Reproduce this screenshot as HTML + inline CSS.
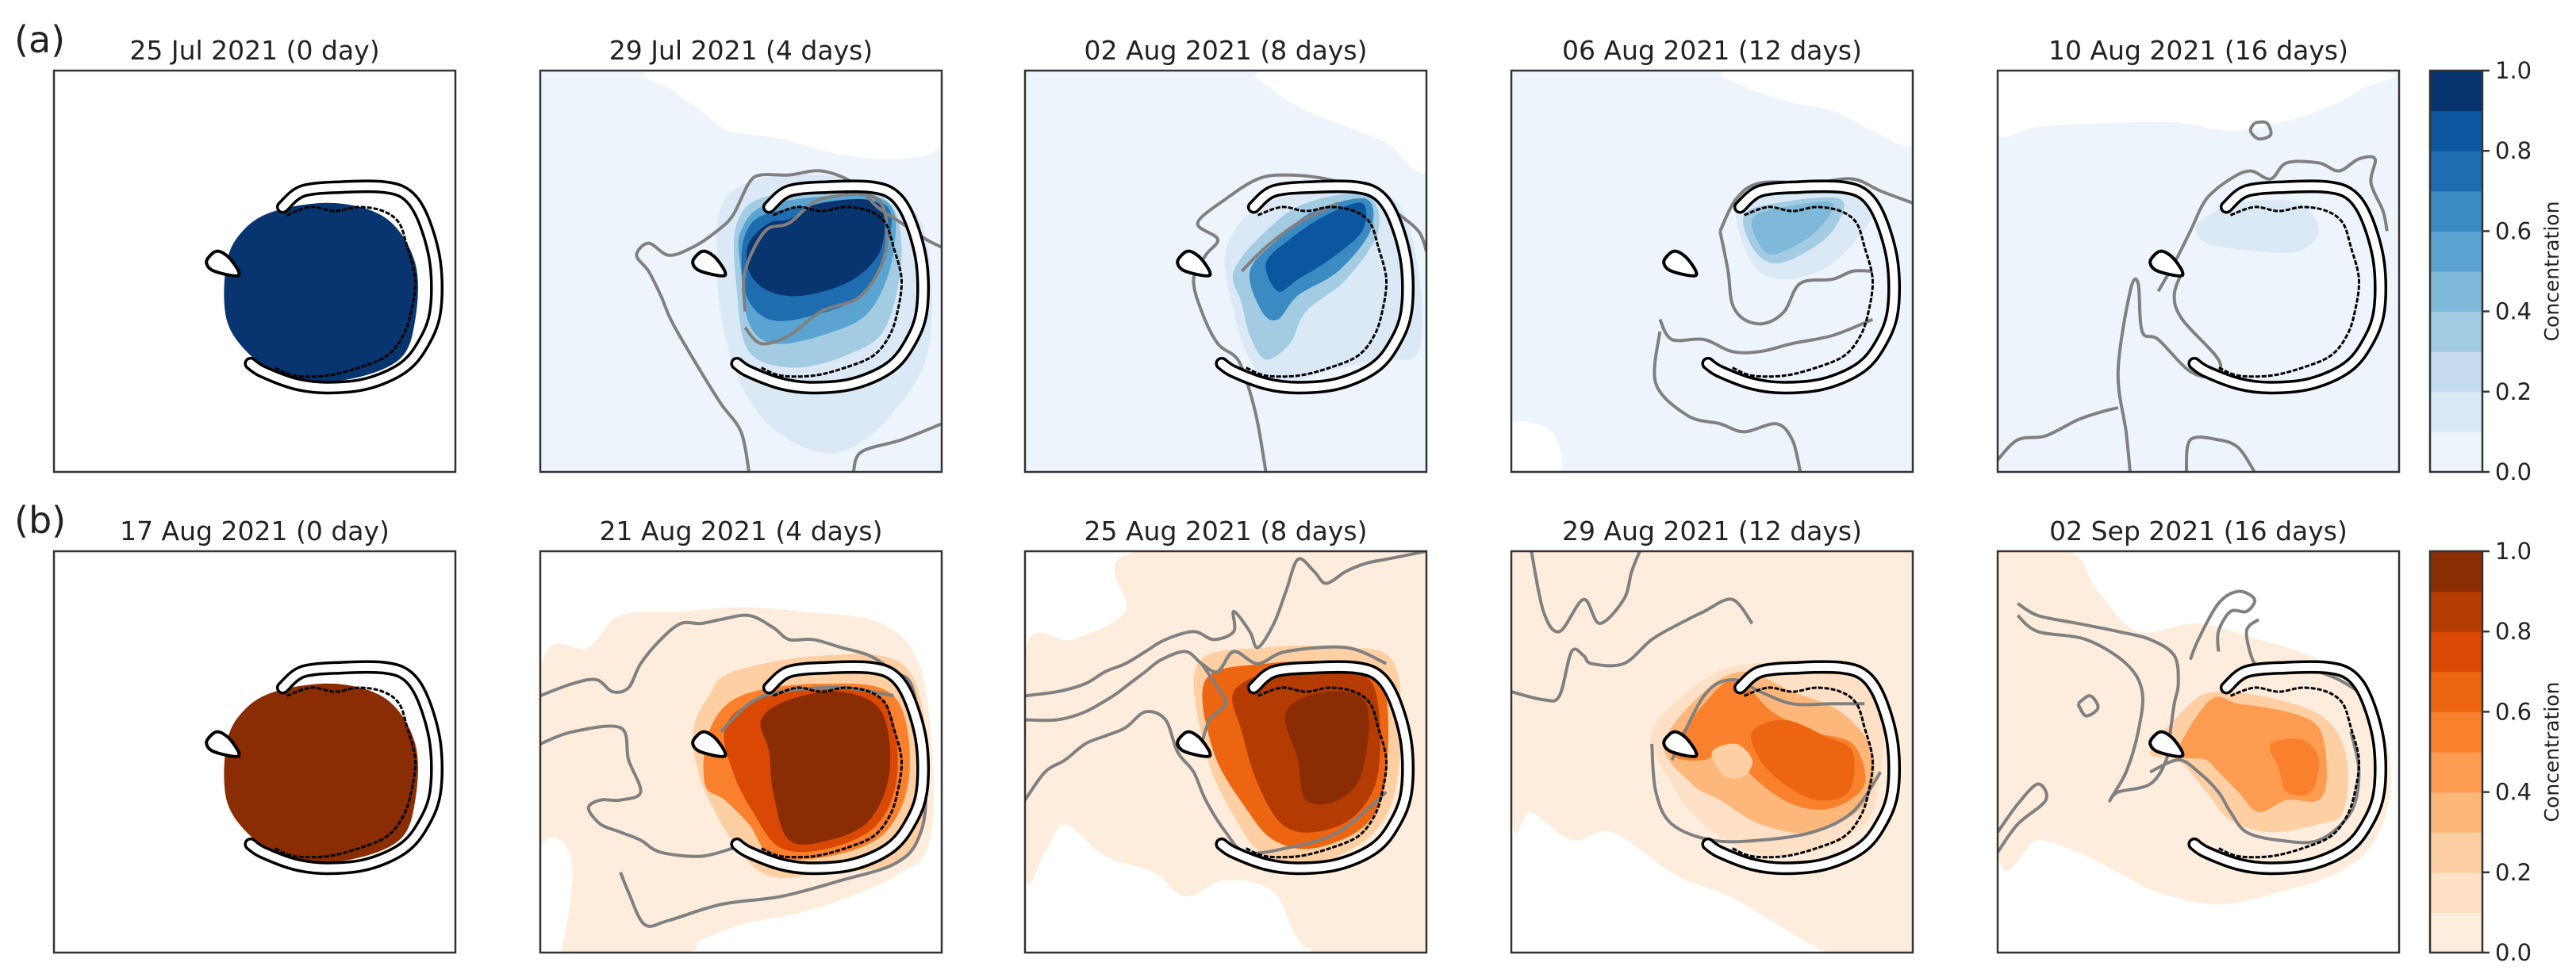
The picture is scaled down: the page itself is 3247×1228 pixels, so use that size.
<!DOCTYPE html>
<html><head><meta charset="utf-8"><title>Concentration maps</title>
<style>
html,body{margin:0;padding:0;background:#fff;}
svg{display:block;}
text{font-family:"DejaVu Sans","Liberation Sans",sans-serif;fill:#222;}
</style></head>
<body>
<svg id="fig" xmlns="http://www.w3.org/2000/svg" width="3247" height="1228" viewBox="0 0 3247 1228"></svg>
<script>
// ---------- data ----------
const titlesA = ["25 Jul 2021 (0 day)","29 Jul 2021 (4 days)","02 Aug 2021 (8 days)","06 Aug 2021 (12 days)","10 Aug 2021 (16 days)"];
const titlesB = ["17 Aug 2021 (0 day)","21 Aug 2021 (4 days)","25 Aug 2021 (8 days)","29 Aug 2021 (12 days)","02 Sep 2021 (16 days)"];
const rowLabels = ["(a)","(b)"];
const cbTicks = [0.0,0.2,0.4,0.6,0.8,1.0];
const levelBounds = [0,0.1,0.2,0.3,0.4,0.5,0.6,0.7,0.8,0.9,1.0];
const bluesColors = ['#edf4fc','#dbe9f6','#c6dbef','#a3cce3','#7fb9da','#5ba3d0','#3b8bc2','#1f6db1','#0c56a0','#083470'];
const orangesColors = ['#feeddc','#fde0c5','#fdcfa3','#fdb77a','#fd9c51','#f9802d','#ee6511','#da4903','#b43b02','#8a2d04'];
const FULL = [[0,0],[100,0],[100,100],[0,100]];
const DISK = [[47,40],[55,35],[70,33],[83,37],[90,48],[90,62],[86,72],[73,77],[58,77],[49,71],[43,62],[43,48]];
// fill regions (level index, polygon in map units 0-100); level -1 = no data (white)
const fillsA = [
 [[9,DISK]],
 [[0,FULL],[-1,[[30,0],[100,0],[100,18],[90,22],[75,21],[60,17],[47,15],[40,10],[33,5]]],
  [1,[[46,32],[60,26],[80,28],[95,38],[97,68],[88,85],[75,95],[62,92],[52,82],[46,66],[44,48]]],
  [3,[[49,38],[58,31],[84,31],[90,44],[86,64],[76,71],[63,74],[52,70],[49,55]]],
  [5,[[50,40],[58,33],[85,32],[88,45],[82,60],[70,66],[58,68],[52,63],[50,50]]],
  [7,[[51,41],[59,35],[85,33],[86,45],[80,56],[68,61],[57,62],[51,55]]],
  [9,[[52,43],[57,38],[62,37],[70,33],[84,33],[85,44],[78,52],[66,56],[57,55],[52,50]]]],
 [[0,FULL],[-1,[[60,0],[100,0],[100,25],[90,18],[80,14],[70,10],[62,5]]],
  [1,[[50,45],[58,34],[75,30],[92,32],[98,50],[98,70],[88,72],[75,75],[62,78],[56,72],[52,60]]],
  [3,[[52,50],[60,40],[70,33],[85,31],[88,40],[80,52],[70,60],[66,68],[60,72],[56,66],[54,58]]],
  [6,[[56,50],[63,42],[72,35],[85,32],[86,40],[78,50],[68,56],[63,62],[59,60]]],
  [8,[[60,48],[66,42],[75,36],[84,33],[84,40],[76,47],[68,52],[63,55]]]],
 [[0,FULL],[-1,[[55,0],[100,0],[100,18],[90,15],[80,10],[70,8],[58,4]]],[-1,[[0,88],[10,90],[12,100],[0,100]]],
  [1,[[56,34],[65,30],[85,30],[90,36],[80,48],[68,52],[60,48]]],
  [3,[[58,36],[66,33],[82,32],[80,40],[72,46],[65,48],[60,44]]],
  [4,[[60,37],[68,34],[80,33],[76,40],[68,45],[63,45]]]],
 [[0,FULL],[-1,[[0,0],[92,0],[90,5],[80,10],[70,13],[58,15],[45,13],[30,13],[10,14],[0,16]]],
  [1,[[50,38],[60,33],[75,33],[80,40],[75,45],[65,45],[52,43]]]]
];
const fillsB = [
 [[9,DISK]],
 [[0,[[0,30],[12,24],[20,16],[35,15],[50,14],[65,15],[85,18],[95,30],[98,60],[96,75],[90,80],[80,85],[65,90],[50,93],[40,97],[35,100],[0,100]]],
  [-1,[[0,75],[5,72],[8,80],[5,100],[0,100]]],
  [2,[[48,30],[70,26],[90,28],[96,45],[95,70],[88,78],[72,80],[55,80],[42,62],[38,46],[42,36]]],
  [5,[[42,45],[50,36],[70,33],[88,36],[92,55],[86,70],[72,76],[58,76],[52,68],[46,62],[41,58]]],
  [7,[[46,44],[54,37],[72,34],[86,38],[89,55],[84,68],[72,74],[60,74],[53,65],[48,55]]],
  [9,[[55,42],[62,37],[75,35],[85,40],[87,55],[82,67],[72,72],[62,72],[58,60],[57,50]]]],
 [[0,[[0,25],[12,22],[25,15],[28,0],[100,0],[100,100],[72,100],[62,85],[50,82],[40,86],[32,80],[20,76],[10,68],[5,75],[0,80]]],
  [2,[[43,28],[60,24],[78,24],[92,28],[93,55],[87,70],[72,78],[60,76],[52,66],[45,50]]],
  [6,[[45,32],[60,28],[78,28],[89,32],[90,55],[85,68],[72,74],[62,72],[55,64],[47,50]]],
  [8,[[52,35],[62,30],[78,30],[87,34],[88,55],[82,66],[72,70],[64,68],[58,58],[54,45]]],
  [9,[[65,40],[75,35],[85,38],[84,55],[78,62],[70,62],[68,52]]]],
 [[0,[[0,0],[100,0],[100,100],[52,85],[40,80],[25,70],[15,72],[5,65],[0,66]]],
  [1,[[35,45],[48,32],[60,28],[80,28],[92,35],[92,55],[88,68],[75,75],[60,75],[48,68],[40,58]]],
  [3,[[38,48],[48,35],[58,30],[70,35],[82,40],[90,50],[88,63],[75,70],[62,68],[52,62],[45,58]]],
  [5,[[40,50],[48,38],[56,32],[65,40],[75,45],[85,48],[88,58],[80,64],[70,63],[60,56],[55,48],[48,52]]],
  [6,[[60,45],[68,42],[78,46],[85,50],[84,60],[76,62],[68,58],[62,52]]],
  [2,[[50,50],[56,48],[60,52],[58,56],[53,56]]]],
 [[0,[[0,0],[18,0],[25,10],[35,20],[50,18],[65,22],[75,25],[85,30],[95,42],[98,58],[94,72],[85,80],[70,85],[55,88],[40,85],[30,80],[20,75],[10,72],[0,75]]],
  [2,[[48,38],[55,35],[70,37],[82,42],[87,52],[86,65],[80,68],[68,70],[58,67],[52,60],[45,52],[38,50]]],
  [4,[[53,37],[60,38],[72,40],[80,44],[82,55],[80,62],[72,62],[65,65],[60,60],[55,55],[52,52],[45,50]]],
  [5,[[68,48],[76,47],[80,52],[78,60],[72,60],[70,54]]]]
];
// grey 0.01-level contour lines (map units)
const linesA = [
 [],
 [[[52,100],[50,90],[45,83],[40,75],[33,63],[30,56],[27,50],[24,46],[27,43],[32,46],[38,44],[44,40],[48,36],[52,28],[55,26],[62,26],[70,25],[78,28],[84,34],[90,38],[96,42],[100,44]],
  [[78,100],[80,95],[90,92],[100,88]],
  [[51,60],[51,50],[56,40],[62,38],[70,32],[84,32],[86,45],[80,56],[70,60],[62,66],[55,68],[51,64]]],
 [[[60,100],[58,88],[56,80],[53,72],[48,68],[44,60],[42,52],[45,46],[48,42],[43,38],[50,32],[58,27],[65,26],[75,27],[85,30],[92,35],[98,40],[100,45]],
  [[54,50],[60,44],[68,38],[78,33]]],
 [[[52,40],[56,32],[62,28],[75,28],[85,27],[92,30],[100,33]],
  [[52,40],[54,50],[55,58],[58,62],[63,63],[68,60],[72,53],[80,52],[85,50],[90,50]],
  [[37,62],[40,67],[48,67],[55,70],[62,70],[70,68],[80,66],[90,62]],
  [[37,65],[36,78],[44,86],[52,88],[58,90],[66,88],[70,92],[72,100]]],
 [[[40,55],[44,48],[48,40],[52,32],[58,27],[63,25],[68,27],[72,23],[80,23],[85,25],[90,22],[94,22],[93,28],[96,35],[97,40]],
  [[33,100],[32,90],[30,75],[33,55],[35,53],[36,65],[40,67],[48,75],[54,76],[55,72],[46,62],[44,56],[46,50]],
  [[0,97],[5,92],[12,91],[20,87],[26,85],[30,84]],
  [[47,100],[48,92],[55,92],[60,94],[64,100]],
  [[64,13],[67,13],[68,16],[65,17],[63,15],[64,13]]]
];
const linesB = [
 [],
 [[[0,36],[8,33],[14,32],[18,35],[22,34],[25,28],[30,22],[35,18],[40,18],[45,17],[52,16],[58,19],[62,22],[68,22],[75,24],[82,26],[88,30],[93,35],[96,60],[94,72],[88,78],[75,82],[60,86],[45,88],[32,92],[26,93],[22,85],[20,80]],
  [[0,48],[8,45],[20,44],[22,52],[25,60],[20,62],[15,62],[12,64],[15,68],[20,70],[25,72],[30,75],[40,76],[48,74]],
  [[45,45],[52,38],[60,35],[75,34],[88,36]]],
 [[[0,36],[8,35],[15,33],[20,30],[25,28],[30,25],[35,22],[42,20],[47,22],[52,20],[52,15],[56,20],[58,24],[62,18],[65,10],[68,2],[72,5],[75,8],[80,5],[85,3],[90,2],[100,0]],
  [[0,42],[8,42],[15,40],[22,36],[26,33],[30,30],[34,27],[40,25],[44,28],[48,30],[52,25],[58,28],[65,25],[80,24],[90,28]],
  [[0,62],[5,55],[10,52],[15,48],[20,46],[25,44],[30,40],[35,42],[38,50],[42,55],[45,62],[50,70],[55,75],[65,74],[78,70],[90,60]],
  [[44,28],[48,34],[50,38],[46,42],[44,48]]],
 [[[5,0],[8,15],[12,20],[18,12],[22,18],[28,12],[30,5],[32,0]],
  [[0,35],[8,37],[12,36],[15,25],[18,26],[20,28],[28,28],[35,22],[42,18],[48,15],[55,12],[60,18]],
  [[35,48],[36,60],[40,68],[50,72],[62,72],[75,70],[85,65],[92,55]],
  [[40,52],[48,36],[55,32],[62,35],[70,38],[80,38],[88,38]]],
 [[[5,13],[10,16],[20,18],[30,20],[38,22],[44,26],[45,33],[44,38],[43,45],[42,52],[38,58],[30,60],[28,62],[32,55],[35,45],[36,35],[32,28],[22,22],[10,20],[5,16]],
  [[48,27],[50,22],[55,13],[60,10],[64,12],[62,15],[58,15],[55,20],[55,25]],
  [[65,17],[62,20],[64,28],[68,30],[75,28],[80,30],[85,32],[90,35]],
  [[38,55],[45,52],[50,55],[55,60],[58,65],[62,70],[70,72],[80,72],[88,65],[90,55],[88,45]],
  [[0,70],[5,63],[10,58],[12,62],[5,68],[0,75]],
  [[20,38],[23,36],[25,39],[22,41],[20,38]]]
];
// coastline (map units)
const reefLine = [[57,34],[62,30],[72,29],[82,29],[88,31],[92,37],[95,48],[95,60],[92,68],[87,74],[78,78],[68,79],[60,78],[52,75],[49,73]];
const reefInner = [[58,36],[64,34],[70,35],[76,34],[82,35],[86,38],[88,44],[90,52],[89,60],[87,66],[83,71],[76,74],[68,76],[60,76],[55,74]];
const island = [[39,46],[41,45],[44,47],[46,51],[40,50],[38,48]];

// ---------- layout ----------
const panelX = [68,681,1292,1905,2518];
const rowY = [89,695];
const P = 506;
const NS = "http://www.w3.org/2000/svg";
const svg = document.getElementById('fig');
function el(tag, attrs, parent){ const e=document.createElementNS(NS,tag); for(const k in attrs) e.setAttribute(k,attrs[k]); (parent||svg).appendChild(e); return e; }
function xs(px0,u){ return px0 + u*P/100; }
function ys(py0,v){ return py0 + v*P/100; }
function smooth(pts, px0, py0, closed){
  const p = pts.map(q=>[xs(px0,q[0]), ys(py0,q[1])]);
  const n=p.length; let d='M'+p[0][0].toFixed(1)+' '+p[0][1].toFixed(1);
  const get=i=> closed? p[(i+n)%n] : p[Math.max(0,Math.min(n-1,i))];
  const segs = closed? n : n-1;
  for(let i=0;i<segs;i++){
    const p0=get(i-1),p1=get(i),p2=get(i+1),p3=get(i+2);
    const c1=[p1[0]+(p2[0]-p0[0])/6, p1[1]+(p2[1]-p0[1])/6];
    const c2=[p2[0]-(p3[0]-p1[0])/6, p2[1]-(p3[1]-p1[1])/6];
    d+=' C'+c1[0].toFixed(1)+' '+c1[1].toFixed(1)+' '+c2[0].toFixed(1)+' '+c2[1].toFixed(1)+' '+p2[0].toFixed(1)+' '+p2[1].toFixed(1);
  }
  return d+(closed?' Z':'');
}
function polyPath(pts, px0, py0){
  return 'M'+pts.map(q=>xs(px0,q[0]).toFixed(1)+' '+ys(py0,q[1]).toFixed(1)).join(' L')+' Z';
}
const defs = el('defs',{});

function drawPanel(row, col, title, fills, lines, colors){
  const px0=panelX[col], py0=rowY[row];
  const g = el('g',{});
  
  
  const cp = el('clipPath',{id:'clip'+row+col}, defs);
  el('rect',{x:px0,y:py0,width:P,height:P},cp);
  const inner = el('g',{'clip-path':'url(#clip'+row+col+')'}, g);
  el('rect',{x:px0,y:py0,width:P,height:P,fill:'#fff'},inner);
  fills.forEach((f,i)=>{
    const lvl=f[0], pts=f[1];
    const isRect = pts===FULL;
    const e = el('path',{d: isRect? polyPath(pts,px0,py0) : smooth(pts,px0,py0,true), fill: lvl<0? '#fff' : colors[lvl]}, inner);
    
    
  });
  lines.forEach(l=>{
    const e = el('path',{d: smooth(l,px0,py0,false), fill:'none', stroke:'#808080','stroke-width':4,'stroke-linejoin':'round'}, inner);
    
    
  });
  // reef
  const rd = smooth(reefLine,px0,py0,false);
  const r1 = el('path',{d:rd,fill:'none',stroke:'#000','stroke-width':17,'stroke-linecap':'round'},inner);
  
  
  el('path',{d:rd,fill:'none',stroke:'#fff','stroke-width':10,'stroke-linecap':'round'},inner);
  const ri = el('path',{d:smooth(reefInner,px0,py0,false),fill:'none',stroke:'#000','stroke-width':3,'stroke-dasharray':'6 2'},inner);
  
  
  const isl = el('path',{d:smooth(island,px0,py0,true),fill:'#fff',stroke:'#000','stroke-width':4},inner);
  
  
  const fr = el('rect',{x:px0,y:py0,width:P,height:P,fill:'none',stroke:'#333','stroke-width':2.5},g);
  
  
  const t = el('text',{x:px0+P/2,y:py0-14,'text-anchor':'middle','font-size':33},g);
  t.textContent = title;
  
  
}

for(let c=0;c<5;c++){
  drawPanel(0,c,titlesA[c],fillsA[c],linesA[c],bluesColors);
  drawPanel(1,c,titlesB[c],fillsB[c],linesB[c],orangesColors);
}
rowLabels.forEach((lab,i)=>{
  const t = el('text',{x:18,y:rowY[i]-23,'font-size':46});
  t.textContent = lab;
  
  
});

// colorbars
const cbX=3063, cbW=66;
function cbY(py0,v){ return py0 + P - (v - levelBounds[0])/(levelBounds[levelBounds.length-1]-levelBounds[0])*P; }
function drawColorbar(row, colors){
  const py0=rowY[row];
  const g=el('g',{});
  
  
  colors.forEach((c,i)=>{
    const y1=cbY(py0,levelBounds[i+1]), y0=cbY(py0,levelBounds[i]);
    const r=el('rect',{x:cbX,y:y1,width:cbW,height:(y0-y1)+0.5,fill:c},g);
    
    
  });
  el('rect',{x:cbX,y:py0,width:cbW,height:P,fill:'none',stroke:'#333','stroke-width':2.5},g);
  cbTicks.forEach(v=>{
    const y=cbY(py0,v);
    el('line',{x1:cbX+cbW,x2:cbX+cbW+9,y1:y,y2:y,stroke:'#333','stroke-width':2.5},g);
    const t=el('text',{x:cbX+cbW+16,y:y+10,'font-size':29},g);
    t.textContent=v.toFixed(1);
    
    
  });
  const lt=el('text',{x:0,y:0,'font-size':25,'text-anchor':'middle',transform:'translate(3225,'+(py0+P/2)+') rotate(-90)'},g);
  lt.textContent='Concentration';
  
  
}
drawColorbar(0,bluesColors);
drawColorbar(1,orangesColors);
</script>
</body></html>
